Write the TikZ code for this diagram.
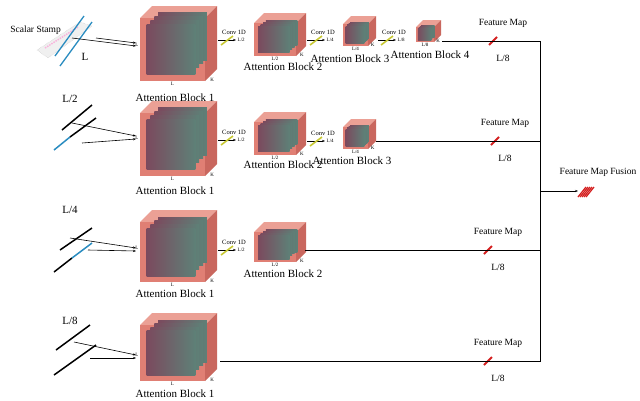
\documentclass[tikz,border=0pt]{standalone}
\usepackage{fontspec}
\setmainfont{Liberation Serif}
\usetikzlibrary{arrows.meta}
\definecolor{salm}{HTML}{E07F74}
\definecolor{salmd}{HTML}{C9675E}
\definecolor{salml}{HTML}{EBA095}
\definecolor{gpur}{HTML}{7B4A5E}
\definecolor{gteal}{HTML}{5E8077}
\definecolor{fred}{HTML}{D42020}
\definecolor{ylw}{HTML}{C8C832}
\definecolor{blu}{HTML}{2A8CC0}
\tikzset{lbl/.style={font=\fontsize{11}{12}\selectfont,inner sep=1pt},
 fm/.style={font=\fontsize{9.5}{10}\selectfont,inner sep=1pt},
 cv/.style={font=\fontsize{6.5}{7}\selectfont,inner sep=0.5pt},
 sm/.style={font=\fontsize{5}{5}\selectfont,inner sep=0.5pt},
 con/.style={line width=0.6pt,-{Stealth[length=3pt]}},
 ln/.style={line width=0.7pt}}
\newcommand{\acube}[6]{%
 \fill[salml] (#1,#2) -- ++(#5,-#5) -- ++(#3,0) -- ++(-#5,#5) -- cycle;
 \fill[salmd] (#1+#3,#2) -- ++(#5,-#5) -- ++(0,#4) -- ++(-#5,#5) -- cycle;
 \fill[salm] (#1,#2) rectangle ++(#3,#4);
 \foreach \k in {3,2,1}{
  \shade[left color=gpur,right color=gteal] (#1+0.1*#3+\k*0.06*#3,#2+0.1*#4-\k*0.06*#4) rectangle ++(0.75*#3,0.75*#4);}
 \shade[left color=gpur,right color=gteal] (#1+0.1*#3,#2+0.1*#4) rectangle ++(0.75*#3,0.8*#4);
 \node[sm] at (#1+0.5*#3,#2+#4+2.5) {#6};
 \node[sm] at (#1+#3+0.6*#5,#2+#4-1) {K};
}
\newcommand{\conv}[3]{%
 \draw[con] (#1,#2) -- ++(18,0);
 \draw[ylw,line width=1.6pt] (#1+3,#2+5) -- ++(12,-9);
 \node[cv] at (#1+16,#2-8) {Conv 1D};
 \node[sm,anchor=west] at (#1+19,#2) {#3};
}
\newcommand{\fmap}[2]{%
 \draw[fred,line width=2pt] (#1-4,#2+4) -- (#1+4,#2-4);
 \node[fm] at (#1+10,#2-18) {Feature Map};
 \node[fm] at (#1+10,#2+17) {L/8};
}
\begin{document}
\begin{tikzpicture}[x=1pt,y=-1pt]
\useasboundingbox (0,0) rectangle (640,400);
% ---------- row 1
\fill[gray!12] (37,50) -- (80,22) -- (92,26) -- (48,58) -- cycle;
\draw[gray!50,densely dotted] (37,50) -- (80,22) -- (92,26) -- (48,58) -- cycle;
\draw[magenta!30,densely dotted,line width=1.5pt] (45,48) -- (78,27);
\draw[blu,line width=1.3pt] (60,66) -- (92,22);
\draw[blu,line width=1.3pt] (55,56) -- (84,16);
\node[fm,anchor=east] at (62,30) {Scalar Stamp};
\draw[con] (72,38) -- (136,46);
\draw[con] (96,38) -- (136,43);
\node[lbl] at (85,57) {L};
\acube{140}{18}{65}{63}{12}{L}
\node[sm] at (137,45) {L};
\node[lbl] at (175,98) {Attention Block 1};
\conv{218}{40}{L/2}
\acube{254}{23}{42}{33}{10}{L/2}
\node[lbl] at (283,67) {Attention Block 2};
\conv{307}{40}{L/4}
\acube{343}{24}{25}{22}{8}{L/4}
\node[lbl] at (350,59) {Attention Block 3};
\conv{378}{40}{L/8}
\acube{416}{27}{18}{15}{7}{L/8}
\node[lbl] at (430,55) {Attention Block 4};
\fmap{493}{41}
\draw[ln] (442,41) -- (540,41) -- (540,362);
% ---------- row 2
\draw[line width=1.5pt] (62,130) -- (92,105);
\draw[blu,line width=1.5pt] (54,150) -- (70,137);
\draw[line width=1.5pt] (70,137) -- (96,118);
\node[lbl] at (70,99) {L/2};
\draw[con] (72,123) -- (136,136);
\draw[con] (82,143) -- (136,139);
\acube{140}{113}{65}{63}{12}{L}
\node[sm] at (137,138) {L};
\node[lbl] at (175,191) {Attention Block 1};
\conv{218}{140}{L/2}
\acube{254}{122}{42}{33}{10}{L/2}
\node[lbl] at (283,165) {Attention Block 2};
\conv{307}{141}{L/4}
\acube{343}{127}{25}{22}{8}{L/4}
\node[lbl] at (352,161) {Attention Block 3};
\fmap{495}{141}
\draw[ln] (376,141) -- (540,141);
% ---------- row 3
\draw[line width=1.5pt] (60,250) -- (92,228);
\draw[line width=1.5pt] (54,272) -- (72,258);
\draw[blu,line width=1.5pt] (72,258) -- (92,243);
\node[lbl] at (70,210) {L/4};
\draw[con] (70,238) -- (136,248);
\draw[con] (88,250) -- (136,251);
\acube{140}{222}{65}{60}{12}{L}
\node[sm] at (137,248) {L};
\node[lbl] at (175,294) {Attention Block 1};
\conv{218}{250}{L/2}
\acube{254}{232}{42}{30}{10}{L/2}
\node[lbl] at (283,274) {Attention Block 2};
\fmap{488}{250}
\draw[ln] (305,250) -- (540,250);
% ---------- row 4
\draw[line width=1.5pt] (56,350) -- (90,325);
\draw[line width=1.5pt] (54,375) -- (96,345);
\node[lbl] at (70,321) {L/8};
\draw[con] (74,342) -- (136,355);
\draw[con] (90,358) -- (136,358);
\acube{140}{325}{65}{56}{12}{L}
\node[sm] at (137,355) {L};
\node[lbl] at (175,394) {Attention Block 1};
\fmap{488}{361}
\draw[ln] (220,361) -- (540,361);
% fusion
\draw[con] (540,191) -- (578,191);
\node[fm] at (598,172) {Feature Map Fusion};
\foreach \i in {0,2,4,6,8}{\draw[fred,line width=1.3pt] (578+\i,197) -- (586+\i,187);}
\end{tikzpicture}
\end{document}
